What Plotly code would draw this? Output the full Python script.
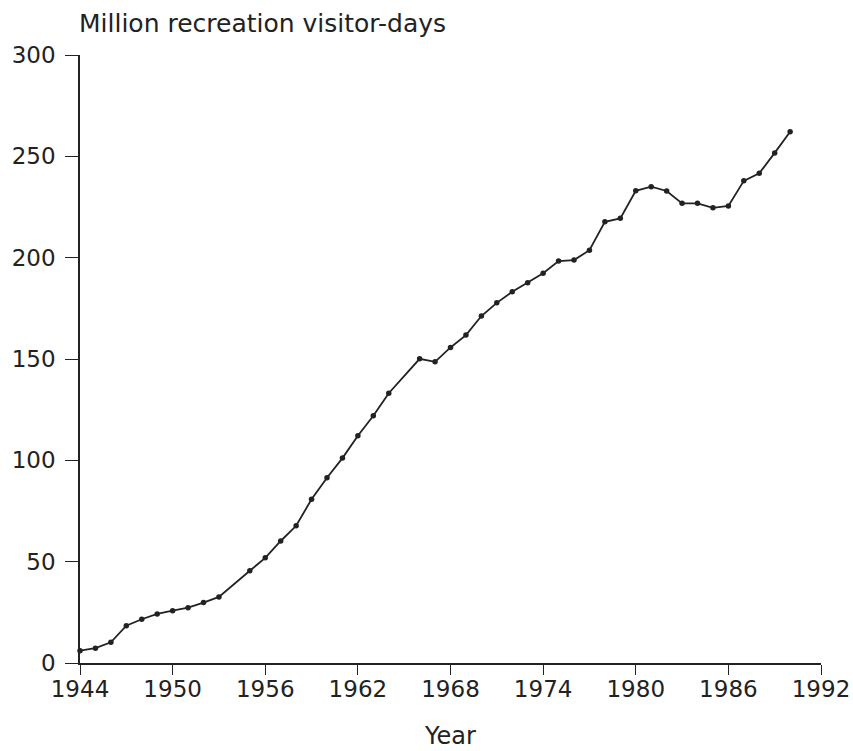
import plotly.graph_objects as go

years = [1944, 1945, 1946, 1947, 1948, 1949, 1950, 1951, 1952, 1953,
         1955, 1956, 1957, 1958, 1959, 1960, 1961, 1962, 1963, 1964,
         1966, 1967, 1968, 1969, 1970, 1971, 1972, 1973, 1974, 1975,
         1976, 1977, 1978, 1979, 1980, 1981, 1982, 1983, 1984, 1985,
         1986, 1987, 1988, 1989, 1990]
visitor_days = [6.1, 7.3, 10.2, 18.4, 21.6, 24.2, 25.8, 27.3, 29.8, 32.6,
                45.5, 51.9, 60.2, 67.7, 80.8, 91.4, 101.1, 112.1, 122.0, 133.1,
                150.1, 148.6, 155.7, 161.8, 171.2, 177.7, 183.2, 187.6, 192.3, 198.3,
                198.8, 203.7, 217.7, 219.4, 233.0, 235.0, 232.9, 226.8, 226.8, 224.6,
                225.5, 237.9, 241.6, 251.7, 262.1]

x_ticks = [1944, 1950, 1956, 1962, 1968, 1974, 1980, 1986, 1992]
y_ticks = [0, 50, 100, 150, 200, 250, 300]

ink = "#222222"
font_family = "DejaVu Sans, Liberation Sans, sans-serif"

fig = go.Figure()
fig.add_trace(go.Scatter(
    x=years, y=visitor_days, mode="lines+markers",
    line=dict(color=ink, width=1.8),
    marker=dict(color=ink, size=5.5),
    cliponaxis=False, showlegend=False,
))

fig.update_layout(
    width=853, height=751,
    paper_bgcolor="white", plot_bgcolor="white",
    margin=dict(l=80, r=32, t=55, b=88),
    font=dict(family=font_family, size=23, color=ink),
    xaxis=dict(
        range=[1944, 1992], tickvals=x_ticks, ticktext=[str(t) for t in x_ticks],
        automargin=False,
        showgrid=False, zeroline=False, showline=True, linecolor=ink, linewidth=1.5,
        ticks="outside", ticklen=10, tickwidth=1.3, tickcolor=ink,
        tickfont=dict(size=23), ticklabelstandoff=-5,
        title=dict(text="Year", font=dict(size=24), standoff=26),
    ),
    yaxis=dict(
        range=[0, 300], tickvals=y_ticks,
        automargin=False,
        showgrid=False, zeroline=False, showline=True, linecolor=ink, linewidth=1.5,
        ticks="outside", ticklen=13, tickwidth=1.3, tickcolor=ink,
        tickfont=dict(size=23), ticklabelstandoff=5,
    ),
    annotations=[dict(
        text="Million recreation visitor-days", x=0, y=1, xref="paper", yref="paper",
        xanchor="left", yanchor="bottom", yshift=15, xshift=-3, showarrow=False,
        font=dict(size=25, color=ink),
    )],
)

fig.write_html("out.html", config={"displayModeBar": False},
               post_script="document.body.style.margin='0';")
